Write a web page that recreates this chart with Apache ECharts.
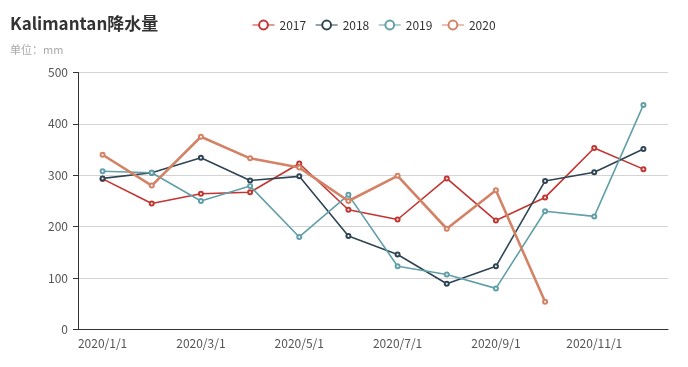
<!DOCTYPE html>
<html>
<head>
<meta charset="utf-8">
<script src="https://cdn.jsdelivr.net/npm/echarts@6/dist/echarts.min.js"></script>
<style>html,body{margin:0;padding:0;background:#fff;}#c{width:688px;height:367px;}</style>
</head>
<body>
<div id="c"></div>
<script>
var categories = ['2020/1/1','2020/2/1','2020/3/1','2020/4/1','2020/5/1','2020/6/1','2020/7/1','2020/8/1','2020/9/1','2020/10/1','2020/11/1','2020/12/1'];
var years = ['2017','2018','2019','2020'];
var values2017 = [293, 245, 264, 267, 323, 233, 214, 294, 212, 257, 353, 312];
var values2018 = [294, 305, 334, 290, 298, 182, 146, 89, 123, 289, 306, 351];
var values2019 = [308, 305, 250, 279, 180, 262, 123, 107, 80, 230, 220, 437];
var values2020 = [340, 280, 375, 333, 315, 250, 299, 196, 271, 54, null, null];
var yTicks = [0, 100, 200, 300, 400, 500];

var font = '"Noto Sans CJK SC", "Noto Sans", sans-serif';
var colors = ['#c23531', '#2f4554', '#61a0a8', '#d48265'];
var seriesValues = [values2017, values2018, values2019, values2020];
var widths = [1.6, 1.6, 1.6, 2.6];

var chart = echarts.init(document.getElementById('c'), null, {renderer: 'canvas'});
chart.setOption({
  animation: false,
  color: colors,
  textStyle: {fontFamily: font},
  title: {
    text: 'Kalimantan降水量',
    subtext: '单位：mm',
    left: 5,
    top: 10,
    itemGap: 12,
    textStyle: {fontSize: 17, fontWeight: 'bold', color: '#333', fontFamily: font},
    subtextStyle: {fontSize: 11, color: '#aaa', fontFamily: font}
  },
  legend: {
    data: years,
    left: 247,
    top: 14,
    itemWidth: 22,
    itemHeight: 11,
    itemGap: 9,
    lineStyle: {width: 1},
    itemStyle: {borderWidth: 1},
    textStyle: {fontSize: 12, color: '#333', fontFamily: font}
  },
  grid: {left: 78, right: 20, top: 72.5, bottom: 37.5, containLabel: false},
  xAxis: {
    type: 'category',
    data: categories,
    boundaryGap: true,
    axisLine: {lineStyle: {color: '#333', width: 1}},
    axisTick: {alignWithLabel: true, interval: function (i) { return i % 2 === 1; }, length: 5, lineStyle: {color: '#333'}},
    axisLabel: {interval: 1, color: '#555', fontSize: 12, margin: 8, fontFamily: font}
  },
  yAxis: {
    type: 'value',
    min: yTicks[0],
    max: yTicks[yTicks.length - 1],
    interval: yTicks[1] - yTicks[0],
    axisLine: {show: true, lineStyle: {color: '#333', width: 1}},
    axisTick: {show: true, length: 5, lineStyle: {color: '#333'}},
    axisLabel: {color: '#555', fontSize: 12, margin: 10, fontFamily: font},
    splitLine: {lineStyle: {color: '#d4d4d4'}}
  },
  series: years.map(function (y, i) {
    return {
      name: y,
      type: 'line',
      data: seriesValues[i],
      symbol: 'emptyCircle',
      symbolSize: 4,
      showSymbol: true,
      showAllSymbol: true,
      connectNulls: false,
      lineStyle: {width: widths[i]},
      itemStyle: {borderWidth: 1}
    };
  })
});
</script>
</body>
</html>
